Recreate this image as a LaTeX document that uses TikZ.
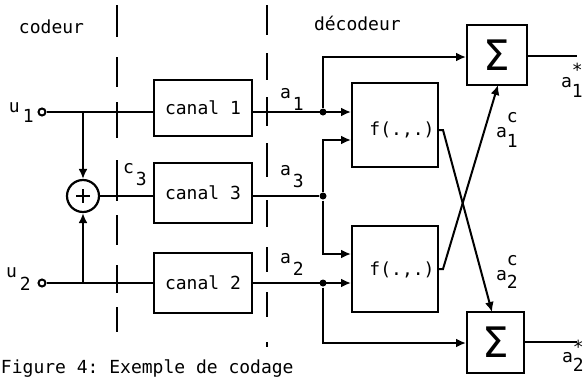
\documentclass[tikz,border=0pt]{standalone}
\usepackage{fontspec}
\setmonofont{DejaVu Sans Mono}
\newfontfamily\sigfont{DejaVu Sans}
\usetikzlibrary{arrows.meta}
\newcommand\lsub[2]{#1\kern2pt\raisebox{-12pt}{#2}}
\newcommand\lsubsup[5]{#1\rlap{\raisebox{#4}{#3}}\raisebox{#5}{#2}}
\begin{document}
\begin{tikzpicture}[x=1pt,y=-1pt,line width=2pt,
  every node/.style={inner sep=0pt},
  lbl/.style={font=\ttfamily\fontsize{18}{18}\selectfont,anchor=base west},
  blk/.style={draw,line width=2pt,font=\ttfamily\fontsize{18}{18}\selectfont},
  fbox/.style={draw,line width=2pt,minimum width=86pt},
  sbox/.style={draw,line width=2pt,font=\sigfont\fontsize{42}{42}\selectfont},
  arr/.style={-{Latex[length=10pt,width=9pt]}},
  jdot/.style={circle,fill,minimum size=7pt},
  term/.style={circle,draw,fill=white,minimum size=7pt,line width=2pt},
  sepline/.style={line width=2pt}]
\useasboundingbox (0,0) rectangle (584,378);

% separation lines
\foreach \a/\b in {5/37,57/87,102/138,160/201,215/245,265/293,307/332}
  \draw[sepline] (117,\a) -- (117,\b);
\foreach \a/\b in {5/35,53/80,97/126,143/177,200/227,247/272,292/317,342/347}
  \draw[sepline] (267,\a) -- (267,\b);

% blocks
\node[blk,minimum width=98pt,minimum height=56pt] (c1) at (203,108) {canal 1};
\node[blk,minimum width=98pt,minimum height=60pt] (c3) at (203,193) {canal 3};
\node[blk,minimum width=98pt,minimum height=60pt] (c2) at (203,283) {canal 2};
\node[fbox,minimum height=84pt] (f1) at (395,125) {};
\node[lbl,anchor=center] (f1t) at (402,130) {f(.,.)};
\node[fbox,minimum height=86pt] (f2) at (395,269) {};
\node[lbl,anchor=center] (f2t) at (402,270) {f(.,.)};
\node[sbox,minimum width=60pt,minimum height=60pt] (s1) at (497,55) {Σ};
\node[sbox,minimum width=57pt,minimum height=61pt] (s2) at (495.5,342.5) {Σ};

% encoder
\node[term] (u1) at (42,112) {};
\node[term] (u2) at (42,283) {};
\node[circle,draw,line width=2.2pt,minimum size=32pt] (add) at (83,196) {};
\draw[line width=2.6pt] (add.center) ++(-7,0) -- ++(14,0);
\draw[line width=2.6pt] (add.center) ++(0,-7) -- ++(0,14);
\draw (u1) -- (u1 -| c1.west);
\draw[arr] (u1 -| add) -- (add.north);
\draw (u2) -- (u2 -| c2.west);
\draw[arr] (u2 -| add) -- (add.south);
\draw (add.east) -- (add -| c3.west);

% decoder
\node[jdot] (d1) at (323,112) {};
\node[jdot] (d3) at (323,196) {};
\node[jdot] (d2) at (323,283) {};
\coordinate (k1) at (323,57);
\coordinate (k3a) at (323,140);
\coordinate (k3b) at (323,254);
\coordinate (k2) at (323,343);
\draw[arr] (c1.east |- d1) -- (d1 -| f1.west);
\draw[arr] (d1) -- (k1) -- (k1 -| s1.west);
\draw (c3.east |- d3) -- (d3);
\draw[arr] (d3) -- (k3a) -- (k3a -| f1.west);
\draw[arr] (d3) -- (k3b) -- (k3b -| f2.west);
\draw[arr] (c2.east |- d2) -- (d2 -| f2.west);
\draw[arr] (d2) -- (k2) -- (k2 -| s2.west);

% crossing
\coordinate (f1o) at (438,130);
\coordinate (f2o) at (438,269);
\coordinate (s1in) at (498,85);
\coordinate (s2in) at (492,312);
\draw[arr] (f1o) -- ++(5,0) -- (s2in);
\draw[arr] (f2o) -- ++(5,0) -- (s1in);

% outputs
\coordinate (o1) at (577,56);
\coordinate (o2) at (577,342);
\draw (s1.east |- o1) -- (o1);
\draw (s2.east |- o2) -- (o2);

% labels
\node[lbl] (lcod) at (18,33) {codeur};
\node[lbl] (ldec) at (313,30) {décodeur};
\node[lbl] (lu1) at (8,112) {u\kern3pt\raisebox{-10pt}{1}};
\node[lbl] (lu2) at (5,277) {u\kern3pt\raisebox{-13pt}{2}};
\node[lbl] (lc3) at (122,173) {\lsub{c}{3}};
\node[lbl] (la1) at (279,98) {\lsub{a}{1}};
\node[lbl] (la3) at (279,175) {\lsub{a}{3}};
\node[lbl] (la2) at (279,263) {\lsub{a}{2}};
\node[lbl] (la1c) at (495,137) {\lsubsup{a}{1}{c}{15pt}{-10pt}};
\node[lbl] (la2c) at (495,280) {\lsubsup{a}{2}{c}{15pt}{-8pt}};
\node[lbl] (la1s) at (560,87) {\lsubsup{a}{1}{*}{11pt}{-10pt}};
\node[lbl] (la2s) at (561,362) {\lsubsup{a}{2}{*}{9pt}{-9pt}};
\node[lbl] (cap) at (0,373) {Figure 4: Exemple de codage};
\end{tikzpicture}
\end{document}
